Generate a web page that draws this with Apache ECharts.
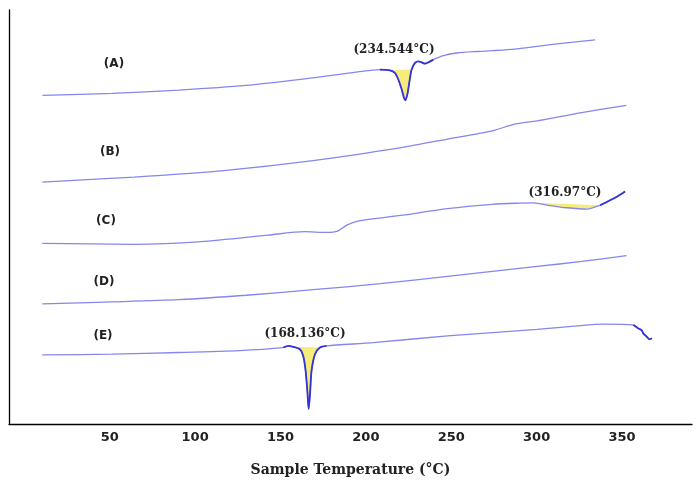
<!DOCTYPE html>
<html>
<head>
<meta charset="utf-8">
<script src="https://cdn.jsdelivr.net/npm/echarts@6/dist/echarts.min.js"></script>
<style>
  html, body { margin: 0; padding: 0; background: #fff; }
  #main { width: 700px; height: 482px; }
</style>
</head>
<body>
<div id="main"></div>
<script>
// DSC curves, [temperature °C, heat flow (arbitrary, curves stacked)]
var curveA = [[10.6,331],[51.3,333],[90.5,336.3],[129.7,341],[169,348.7],[195.4,354.7],[208.2,357],[214.1,356.3],[217,353.7],[219,347],[221,337],[222.3,328.7],[223.1,326],[224.3,332],[225.4,343.7],[226.8,357],[228.8,363.7],[230.7,365.3],[232.7,364.3],[234.6,363],[236.6,364.3],[239.5,367],[245.4,371],[253.2,373.7],[264.9,375.2],[273.9,376],[287.1,377.5],[300.3,380.3],[316.1,383.7],[334.2,387]];
var curveB = [[10.5,243.7],[64.2,248.7],[116.7,255.3],[169.1,265.3],[221.6,278.7],[247.8,287],[274,295.3],[287.1,302],[300.3,305.3],[326.4,313.7],[352.6,321]];
var curveC = [[10.5,182],[64.2,181],[103.6,183.7],[142.9,190.3],[163.9,193.7],[177,193],[183.5,194.3],[188.8,200.3],[195.3,204.3],[221.6,210.3],[247.8,217],[274,221.3],[290,222.5],[298,222.8],[308,220],[317.6,217.8],[329.4,216.5],[337.2,220.3],[343,225.3],[347.5,229.5],[351.8,234.3]];
var curveD = [[10.5,121],[51.2,123],[90.5,125.3],[129.8,129.7],[169.1,135.3],[208.4,141.3],[247.8,148.7],[300.3,158.7],[326.4,163.7],[352.6,169.7]];
var curveE = [[10.5,69.7],[51.2,70.3],[90.5,72],[126,74],[151.6,77],[154.5,78.7],[157.5,77.7],[161.4,75.3],[163.3,68.7],[164.7,53.7],[165.7,33.7],[166.5,15],[167.3,30.3],[168.2,53.7],[170.2,70.3],[173.1,77],[177,78.7],[204.3,82],[247.8,88.7],[300.3,95.3],[334.2,100.3],[339.1,100.5],[356.7,99.7],[359.6,96.3],[361.6,94.3],[362.5,91],[364.1,88.7],[366.1,85.3],[367.5,86.3]];

var tickValues = [50, 100, 150, 200, 250, 300, 350];
var curveNames = ['(A)', '(B)', '(C)', '(D)', '(E)'];
var peakNames = ['(234.544°C)', '(316.97°C)', '(168.136°C)'];

var lightBlue = '#8686ec';
var darkBlue = '#3434d8';
var yellow = '#f5ec7a';

function range(pts, lo, hi) {
  return pts.filter(function (p) { return p[0] >= lo && p[0] <= hi; });
}

function curve(pts) {
  return {
    type: 'line', data: pts, showSymbol: false, smooth: 0.25,
    lineStyle: { color: lightBlue, width: 1.3 }, z: 3, silent: true
  };
}

function darkPart(pts) {
  return {
    type: 'line', data: pts, showSymbol: false, smooth: 0.25,
    lineStyle: { color: darkBlue, width: 1.8 }, z: 4, silent: true
  };
}

function fill(pts) {
  return {
    type: 'custom', data: pts, z: 2, silent: true,
    renderItem: function (params, api) {
      if (params.dataIndex !== 0) return;
      return {
        type: 'polygon',
        shape: { points: pts.map(function (p) { return api.coord(p); }) },
        style: { fill: yellow }
      };
    }
  };
}

var myChart = echarts.init(document.getElementById('main'));

var labelStyle = { fontFamily: 'DejaVu Sans', fontWeight: 'bold', fontSize: 12, fill: '#222', align: 'center', verticalAlign: 'middle' };
var peakStyle = { fontFamily: 'DejaVu Serif', fontWeight: 'bold', fontSize: 12, fill: '#222', align: 'center', verticalAlign: 'middle' };
var labelPos = [[114, 64], [110, 152], [106, 221], [104, 282], [103, 336]];
var peakPos = [[394, 50], [565, 193], [305, 334]];

var graphics = [];
curveNames.forEach(function (t, i) {
  graphics.push({ type: 'text', x: labelPos[i][0], y: labelPos[i][1], style: Object.assign({ text: t }, labelStyle) });
});
peakNames.forEach(function (t, i) {
  graphics.push({ type: 'text', x: peakPos[i][0], y: peakPos[i][1], style: Object.assign({ text: t }, peakStyle) });
});

myChart.setOption({
  animation: false,
  backgroundColor: '#fff',
  grid: { left: 9, right: 8, top: 10, bottom: 55 },
  xAxis: {
    type: 'value', min: -9, max: 391,
    name: 'Sample Temperature (°C)', nameLocation: 'middle', nameGap: 39,
    nameTextStyle: { fontFamily: 'DejaVu Serif', fontWeight: 'bold', fontSize: 14, color: '#222' },
    axisLine: { show: true, onZero: false, lineStyle: { color: '#000', width: 1.3 } },
    axisTick: { show: false },
    splitLine: { show: false },
    axisLabel: {
      customValues: tickValues, margin: 7,
      fontFamily: 'DejaVu Sans', fontWeight: 'bold', fontSize: 13, color: '#222'
    }
  },
  yAxis: {
    type: 'value', min: 0, max: 417,
    axisLine: { show: true, onZero: false, lineStyle: { color: '#000', width: 1.3 } },
    axisTick: { show: false },
    axisLabel: { show: false },
    splitLine: { show: false }
  },
  graphic: graphics,
  series: [
    fill(range(curveA, 214, 227)),
    fill(range(curveC, 298, 338)),
    fill(range(curveE, 157, 174)),
    curve(curveA), curve(curveB), curve(curveC), curve(curveD), curve(curveE),
    darkPart(range(curveA, 208, 240)),
    darkPart(range(curveC, 337, 353)),
    darkPart(range(curveE, 151, 178)),
    darkPart(range(curveE, 356, 368))
  ]
});
</script>
</body>
</html>
